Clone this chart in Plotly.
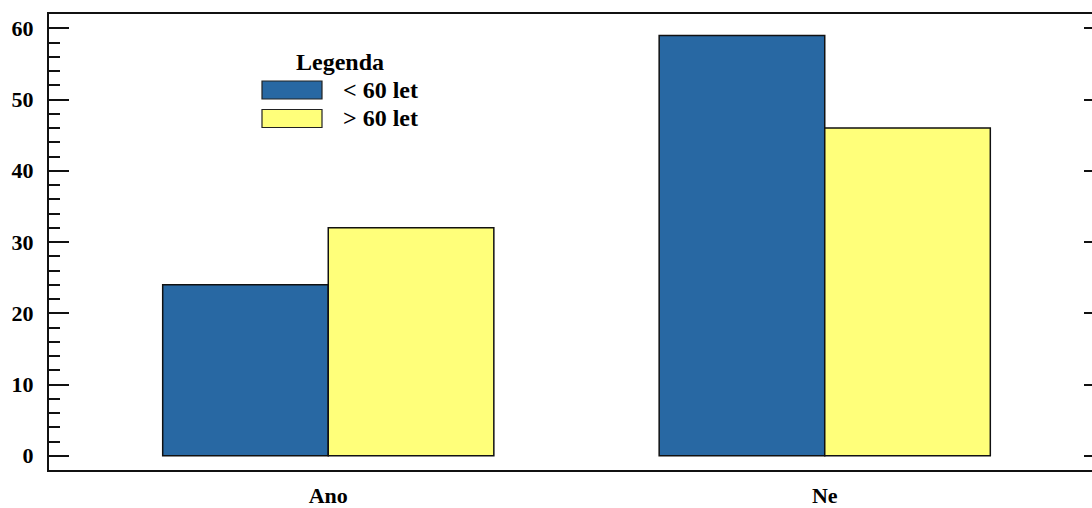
import plotly.graph_objects as go

# Data
categories = ["Ano", "Ne"]
series_names = ["< 60 let", "> 60 let"]
under_60 = [24, 59]
over_60 = [32, 46]
y_ticks = [0, 10, 20, 30, 40, 50, 60]

blue = "#2868A3"
yellow = "#FFFF7A"
font_family = "Liberation Serif"
tick_size = 22
legend_size = 24

W, H = 1104, 508

fig = go.Figure()
fig.add_trace(go.Bar(x=categories, y=under_60, name=series_names[0],
                     marker=dict(color=blue, line=dict(color="#111111", width=1.5)),
                     showlegend=False))
fig.add_trace(go.Bar(x=categories, y=over_60, name=series_names[1],
                     marker=dict(color=yellow, line=dict(color="#111111", width=1.5)),
                     showlegend=False))

# Hand-built legend box: title, swatches, labels (paper coordinates)
left, top, right, bottom = 49, 14, 0, 38
pw = W - left - right
ph = H - top - bottom

def px(x):
    return (x - left) / pw

def py(y):
    return 1 - (y - top) / ph

fig.add_annotation(x=px(340), y=py(62), xref="paper", yref="paper", text="<b>Legenda</b>",
                   showarrow=False, xanchor="center", yanchor="middle",
                   font=dict(family=font_family, size=legend_size, color="black"))
swatch_y = [90, 118.5]
for name, col, yc in zip(series_names, [blue, yellow], swatch_y):
    fig.add_shape(type="rect", xref="paper", yref="paper",
                  x0=px(262), x1=px(322), y0=py(yc - 9), y1=py(yc + 9),
                  fillcolor=col, line=dict(color="#222222", width=1.2))
    fig.add_annotation(x=px(341), y=py(yc), xref="paper", yref="paper",
                       text="<b>" + name.replace("<", "&lt;").replace(">", "&gt;") + "</b>",
                       showarrow=False, xanchor="left", yanchor="middle",
                       font=dict(family=font_family, size=legend_size, color="black"))

fig.update_layout(
    width=W, height=H,
    margin=dict(l=left, r=right, t=top, b=bottom, pad=0),
    paper_bgcolor="white", plot_bgcolor="white",
    barmode="group", bargap=0.333, bargroupgap=0,
    font=dict(family=font_family, size=tick_size, color="black"),
    xaxis=dict(range=[-0.5625, 1.5625], showline=True, linecolor="#111111", linewidth=2,
               mirror=True, ticks="", showgrid=False, zeroline=False, automargin=False,
               tickvals=categories, ticktext=["<b>%s</b>" % c for c in categories],
               tickfont=dict(family=font_family, size=tick_size),
               ticklabelstandoff=5),
    yaxis=dict(range=[-2, 62], showline=True, linecolor="#111111", linewidth=2,
               mirror=True, ticks="inside", ticklen=20, tickwidth=2, tickcolor="#111111",
               tickvals=y_ticks,
               ticktext=["<b>%d</b>" % v for v in y_ticks],
               minor=dict(ticks="inside", ticklen=11, tickwidth=2, tickcolor="#111111",
                          dtick=2, tick0=0, showgrid=False),
               showgrid=False, zeroline=False, automargin=False,
               tickfont=dict(family=font_family, size=tick_size),
               ticklabelstandoff=9),
    yaxis2=dict(range=[-2, 62], overlaying="y", side="right", showline=False,
                ticks="inside", ticklen=20, tickwidth=2, tickcolor="#111111",
                tickvals=y_ticks, showticklabels=False,
                showgrid=False, zeroline=False, automargin=False),
)
# Invisible trace to activate the right-hand tick axis
fig.add_trace(go.Scatter(x=categories, y=under_60, yaxis="y2", mode="markers",
                         marker=dict(opacity=0), showlegend=False, hoverinfo="skip"))

fig.write_html("out.html",
               post_script="document.documentElement.style.overflow='hidden';"
                           "document.body.style.overflow='hidden';")
